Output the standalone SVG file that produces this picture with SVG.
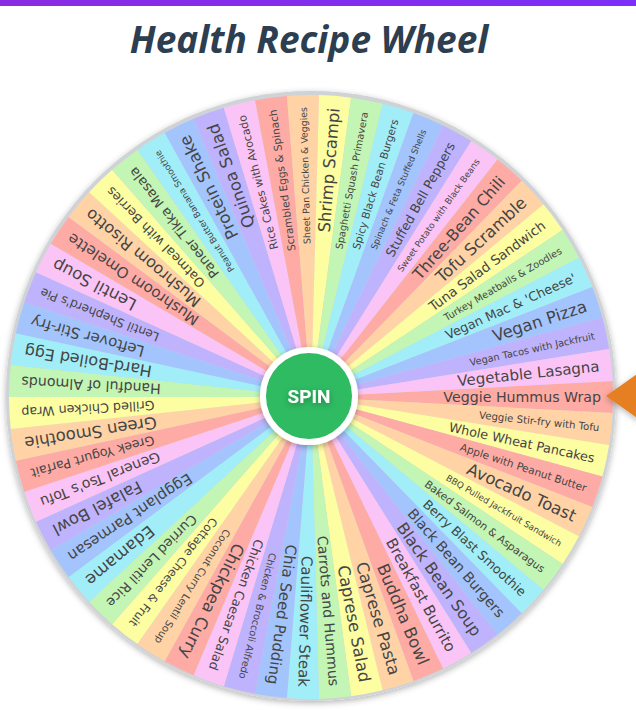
<svg xmlns="http://www.w3.org/2000/svg" xmlns:xlink="http://www.w3.org/1999/xlink" width="636" height="710" viewBox="0 0 636 710">
<style>
.c0{fill:#fbc4f6}.c1{fill:#ffaba5}.c2{fill:#ffd3a6}.c3{fill:#fdfda2}.c4{fill:#c3f5b4}.c5{fill:#a2eef8}.c6{fill:#a3c4fd}.c7{fill:#bfb3fd}
.t{font-family:"DejaVu Sans","Noto Sans",sans-serif;fill:#454545;text-anchor:end;dominant-baseline:central}
</style>
<defs>
<path id="w" d="M0,0 L301.57,-16.07 A302,302 0 0 1 301.57,16.07 Z"/>
<linearGradient id="bar" x1="0" x2="1"><stop offset="0" stop-color="#8a2be2"/><stop offset="1" stop-color="#7b2ff7"/></linearGradient>
<filter id="sh" x="-20%" y="-20%" width="140%" height="140%"><feDropShadow dx="0" dy="2" stdDeviation="3" flood-opacity="0.3"/></filter>
</defs>
<rect width="636" height="710" fill="#fff"/>
<rect width="636" height="6" fill="url(#bar)"/>
<text x="309" y="53" text-anchor="middle" font-family="'Open Sans',sans-serif" font-weight="700" font-style="italic" font-size="37" fill="#2c3e50">Health Recipe Wheel</text>
<circle cx="311" cy="396" r="305" fill="#cfd3d6" filter="url(#sh)"/>
<g id="wheel" transform="translate(311,397)">
<use href="#w" class="c1" transform="rotate(0)"/>
<use href="#w" class="c2" transform="rotate(6.1017)"/>
<use href="#w" class="c3" transform="rotate(12.2034)"/>
<use href="#w" class="c1" transform="rotate(18.3051)"/>
<use href="#w" class="c2" transform="rotate(24.4068)"/>
<use href="#w" class="c3" transform="rotate(30.5085)"/>
<use href="#w" class="c4" transform="rotate(36.6102)"/>
<use href="#w" class="c5" transform="rotate(42.7119)"/>
<use href="#w" class="c6" transform="rotate(48.8136)"/>
<use href="#w" class="c7" transform="rotate(54.9153)"/>
<use href="#w" class="c0" transform="rotate(61.0169)"/>
<use href="#w" class="c1" transform="rotate(67.1186)"/>
<use href="#w" class="c2" transform="rotate(73.2203)"/>
<use href="#w" class="c3" transform="rotate(79.322)"/>
<use href="#w" class="c4" transform="rotate(85.4237)"/>
<use href="#w" class="c5" transform="rotate(91.5254)"/>
<use href="#w" class="c6" transform="rotate(97.6271)"/>
<use href="#w" class="c7" transform="rotate(103.7288)"/>
<use href="#w" class="c0" transform="rotate(109.8305)"/>
<use href="#w" class="c1" transform="rotate(115.9322)"/>
<use href="#w" class="c2" transform="rotate(122.0339)"/>
<use href="#w" class="c3" transform="rotate(128.1356)"/>
<use href="#w" class="c4" transform="rotate(134.2373)"/>
<use href="#w" class="c5" transform="rotate(140.339)"/>
<use href="#w" class="c6" transform="rotate(146.4407)"/>
<use href="#w" class="c7" transform="rotate(152.5424)"/>
<use href="#w" class="c0" transform="rotate(158.6441)"/>
<use href="#w" class="c1" transform="rotate(164.7458)"/>
<use href="#w" class="c2" transform="rotate(170.8475)"/>
<use href="#w" class="c3" transform="rotate(176.9492)"/>
<use href="#w" class="c4" transform="rotate(183.0508)"/>
<use href="#w" class="c5" transform="rotate(189.1525)"/>
<use href="#w" class="c6" transform="rotate(195.2542)"/>
<use href="#w" class="c7" transform="rotate(201.3559)"/>
<use href="#w" class="c0" transform="rotate(207.4576)"/>
<use href="#w" class="c1" transform="rotate(213.5593)"/>
<use href="#w" class="c2" transform="rotate(219.661)"/>
<use href="#w" class="c3" transform="rotate(225.7627)"/>
<use href="#w" class="c4" transform="rotate(231.8644)"/>
<use href="#w" class="c5" transform="rotate(237.9661)"/>
<use href="#w" class="c6" transform="rotate(244.0678)"/>
<use href="#w" class="c7" transform="rotate(250.1695)"/>
<use href="#w" class="c0" transform="rotate(256.2712)"/>
<use href="#w" class="c1" transform="rotate(262.3729)"/>
<use href="#w" class="c2" transform="rotate(268.4746)"/>
<use href="#w" class="c3" transform="rotate(274.5763)"/>
<use href="#w" class="c4" transform="rotate(280.678)"/>
<use href="#w" class="c5" transform="rotate(286.7797)"/>
<use href="#w" class="c6" transform="rotate(292.8814)"/>
<use href="#w" class="c7" transform="rotate(298.9831)"/>
<use href="#w" class="c0" transform="rotate(305.0847)"/>
<use href="#w" class="c1" transform="rotate(311.1864)"/>
<use href="#w" class="c2" transform="rotate(317.2881)"/>
<use href="#w" class="c3" transform="rotate(323.3898)"/>
<use href="#w" class="c4" transform="rotate(329.4915)"/>
<use href="#w" class="c5" transform="rotate(335.5932)"/>
<use href="#w" class="c6" transform="rotate(341.6949)"/>
<use href="#w" class="c7" transform="rotate(347.7966)"/>
<use href="#w" class="c0" transform="rotate(353.8983)"/>
<g id="labels">
<text class="t" x="290" font-size="14.2" transform="rotate(0)">Veggie Hummus Wrap</text>
<text class="t" x="290" font-size="10.2" transform="rotate(6.1017)">Veggie Stir-fry with Tofu</text>
<text class="t" x="290" font-size="12.75" transform="rotate(12.2034)">Whole Wheat Pancakes</text>
<text class="t" x="290" font-size="10.6" transform="rotate(18.3051)">Apple with Peanut Butter</text>
<text class="t" x="290" font-size="16.5" transform="rotate(24.4068)">Avocado Toast</text>
<text class="t" x="290" font-size="8.8" transform="rotate(30.5085)">BBQ Pulled Jackfruit Sandwich</text>
<text class="t" x="290" font-size="10.6" transform="rotate(36.6102)">Baked Salmon &amp; Asparagus</text>
<text class="t" x="290" font-size="12.75" transform="rotate(42.7119)">Berry Blast Smoothie</text>
<text class="t" x="290" font-size="14.2" transform="rotate(48.8136)">Black Bean Burgers</text>
<text class="t" x="290" font-size="16" transform="rotate(54.9153)">Black Bean Soup</text>
<text class="t" x="290" font-size="15" transform="rotate(61.0169)">Breakfast Burrito</text>
<text class="t" x="290" font-size="16.5" transform="rotate(67.1186)">Buddha Bowl</text>
<text class="t" x="290" font-size="16.5" transform="rotate(73.2203)">Caprese Pasta</text>
<text class="t" x="290" font-size="16.5" transform="rotate(79.322)">Caprese Salad</text>
<text class="t" x="290" font-size="14.2" transform="rotate(85.4237)">Carrots and Hummus</text>
<text class="t" x="290" font-size="15" transform="rotate(91.5254)">Cauliflower Steak</text>
<text class="t" x="290" font-size="15" transform="rotate(97.6271)">Chia Seed Pudding</text>
<text class="t" x="290" font-size="9.8" transform="rotate(103.7288)">Chicken &amp; Broccoli Alfredo</text>
<text class="t" x="290" font-size="12.75" transform="rotate(109.8305)">Chicken Caesar Salad</text>
<text class="t" x="290" font-size="16.5" transform="rotate(115.9322)">Chickpea Curry</text>
<text class="t" x="290" font-size="10.2" transform="rotate(122.0339)">Coconut Curry Lentil Soup</text>
<text class="t" x="290" font-size="11.6" transform="rotate(128.1356)">Cottage Cheese &amp; Fruit</text>
<text class="t" x="290" font-size="13.4" transform="rotate(134.2373)">Curried Lentil Rice</text>
<text class="t" x="290" font-size="16.5" transform="rotate(140.339)">Edamame</text>
<text class="t" x="290" font-size="15" transform="rotate(146.4407)">Eggplant Parmesan</text>
<text class="t" x="290" font-size="16.5" transform="rotate(152.5424)">Falafel Bowl</text>
<text class="t" x="290" font-size="14.2" transform="rotate(158.6441)">General Tso's Tofu</text>
<text class="t" x="290" font-size="12.75" transform="rotate(164.7458)">Greek Yogurt Parfait</text>
<text class="t" x="290" font-size="16.5" transform="rotate(170.8475)">Green Smoothie</text>
<text class="t" x="290" font-size="12.75" transform="rotate(176.9492)">Grilled Chicken Wrap</text>
<text class="t" x="290" font-size="14.2" transform="rotate(183.0508)">Handful of Almonds</text>
<text class="t" x="290" font-size="16" transform="rotate(189.1525)">Hard-Boiled Egg</text>
<text class="t" x="290" font-size="15" transform="rotate(195.2542)">Leftover Stir-fry</text>
<text class="t" x="290" font-size="12.1" transform="rotate(201.3559)">Lentil Shepherd's Pie</text>
<text class="t" x="290" font-size="16.5" transform="rotate(207.4576)">Lentil Soup</text>
<text class="t" x="290" font-size="15" transform="rotate(213.5593)">Mushroom Omelette</text>
<text class="t" x="290" font-size="15.9" transform="rotate(219.661)">Mushroom Risotto</text>
<text class="t" x="290" font-size="12.75" transform="rotate(225.7627)">Oatmeal with Berries</text>
<text class="t" x="290" font-size="13.4" transform="rotate(231.8644)">Paneer Tikka Masala</text>
<text class="t" x="290" font-size="8.8" transform="rotate(237.9661)">Peanut Butter Banana Smoothie</text>
<text class="t" x="290" font-size="16.5" transform="rotate(244.0678)">Protein Shake</text>
<text class="t" x="290" font-size="16.5" transform="rotate(250.1695)">Quinoa Salad</text>
<text class="t" x="290" font-size="11.1" transform="rotate(256.2712)">Rice Cakes with Avocado</text>
<text class="t" x="290" font-size="10.6" transform="rotate(262.3729)">Scrambled Eggs &amp; Spinach</text>
<text class="t" x="290" font-size="9.4" transform="rotate(268.4746)">Sheet Pan Chicken &amp; Veggies</text>
<text class="t" x="290" font-size="16.5" transform="rotate(274.5763)">Shrimp Scampi</text>
<text class="t" x="290" font-size="9.8" transform="rotate(280.678)">Spaghetti Squash Primavera</text>
<text class="t" x="290" font-size="10.6" transform="rotate(286.7797)">Spicy Black Bean Burgers</text>
<text class="t" x="290" font-size="8.8" transform="rotate(292.8814)">Spinach &amp; Feta Stuffed Shells</text>
<text class="t" x="290" font-size="12.75" transform="rotate(298.9831)">Stuffed Bell Peppers</text>
<text class="t" x="290" font-size="8.8" transform="rotate(305.0847)">Sweet Potato with Black Beans</text>
<text class="t" x="290" font-size="15.9" transform="rotate(311.1864)">Three-Bean Chili</text>
<text class="t" x="290" font-size="16.5" transform="rotate(317.2881)">Tofu Scramble</text>
<text class="t" x="290" font-size="13.4" transform="rotate(323.3898)">Tuna Salad Sandwich</text>
<text class="t" x="290" font-size="9.8" transform="rotate(329.4915)">Turkey Meatballs &amp; Zoodles</text>
<text class="t" x="290" font-size="12.75" transform="rotate(335.5932)">Vegan Mac &amp; 'Cheese'</text>
<text class="t" x="290" font-size="16.5" transform="rotate(341.6949)">Vegan Pizza</text>
<text class="t" x="290" font-size="9.8" transform="rotate(347.7966)">Vegan Tacos with Jackfruit</text>
<text class="t" x="290" font-size="15" transform="rotate(353.8983)">Vegetable Lasagna</text>
</g>
</g>
<g id="spin">
<circle cx="309" cy="396" r="46" fill="#2dbb62" stroke="#fff" stroke-width="6" filter="url(#sh)"/>
<text x="309" y="396" text-anchor="middle" dominant-baseline="central" font-family="Roboto,'Liberation Sans',sans-serif" font-weight="700" font-size="19" fill="#fff" filter="url(#sh)">SPIN</text>
</g>
<g id="pointer">
<polygon points="606,396 640,372 640,420" fill="#e67e22" filter="url(#sh)"/>
</g>
</svg>
